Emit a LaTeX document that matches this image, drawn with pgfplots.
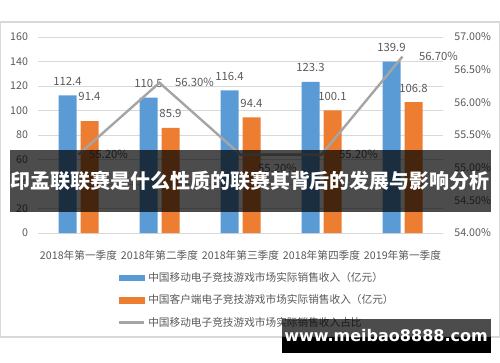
\documentclass[border=0pt]{standalone}
\usepackage{pgfplots}
\pgfplotsset{compat=1.18}
\usepackage{fontspec}
\setmainfont{Noto Sans CJK SC}
\newfontfamily\wmfont{DejaVu Sans}
\definecolor{cblue}{HTML}{5B9BD5}
\definecolor{corange}{HTML}{ED7D31}
\definecolor{cgray}{HTML}{A5A5A5}
\definecolor{cgrid}{HTML}{D9D9D9}
\definecolor{ctxt}{HTML}{595959}
\begin{document}
\begin{tikzpicture}
\useasboundingbox (0,0) rectangle (375pt,271.5pt);
\draw[cgrid, line width=0.8pt] (0.4pt,18.75pt) rectangle (374.6pt,255pt);
\pgfkeys{/pgf/number format/assume math mode=true}
\begin{axis}[
  at={(28.5pt,96.75pt)}, anchor=south west,
  width=303.75pt, height=147pt, scale only axis,
  xmin=-0.5, xmax=4.5, ymin=0, ymax=160,
  ytick={0,20,...,160},
  xtick={0,1,2,3,4},
  xticklabels={2018年第一季度,2018年第二季度,2018年第三季度,2018年第四季度,2019年第一季度},
  ymajorgrids, grid style={cgrid, line width=0.7pt},
  axis line style={draw=none}, tick style={draw=none},
  ticklabel style={font=\fontsize{8}{9.6}\selectfont, text=ctxt},
  yticklabel style={xshift=-4pt},
  xticklabel style={yshift=-5.5pt},
  /pgf/number format/assume math mode=true,
  ybar, bar width=13.5pt,
  nodes near coords={\pgfmathprintnumber[fixed,fixed zerofill,precision=1]{\pgfplotspointmeta}},
  point meta=y,
  every node near coord/.append style={font=\fontsize{8.5}{10}\selectfont, text=ctxt, anchor=center, yshift=\off pt},
  visualization depends on={value \thisrow{off} \as \off},
]
\addplot[fill=cblue, draw=none, bar shift=-8.25pt] table[x=x,y=y] {
x y off
0 112.4 10.5
1 110.5 10.5
2 116.4 10.5
3 123.3 10.5
4 139.9 10.5
};
\addplot[fill=corange, draw=none, bar shift=8.25pt] table[x=x,y=y] {
x y off
0 91.4 18.75
1 85.9 10.5
2 94.4 10.5
3 100.1 10.5
4 106.8 10.5
};
\end{axis}
\begin{axis}[
  at={(28.5pt,96.75pt)}, anchor=south west,
  width=303.75pt, height=147pt, scale only axis,
  xmin=-0.5, xmax=4.5, ymin=54, ymax=57,
  ytick={54,54.5,...,57},
  axis y line*=right, axis x line=none,
  axis line style={draw=none}, tick style={draw=none},
  yticklabel={\pgfmathprintnumber[fixed,fixed zerofill,precision=2]{\tick}\%},
  ticklabel style={font=\fontsize{8}{9.6}\selectfont, text=ctxt},
  yticklabel style={xshift=5pt},
  /pgf/number format/assume math mode=true,
  legend style={at={(0.1975,-0.185)}, anchor=north west, draw=none, fill=none,
    inner sep=0pt, row sep=4.5pt, font=\fontsize{8}{9.6}\selectfont, text=ctxt},
  legend cell align=left,
]
\addlegendimage{legend image code/.code={\fill[cblue] (0pt,-2.2pt) rectangle (18.75pt,2.2pt);}}
\addlegendentry{中国移动电子竞技游戏市场实际销售收入（亿元）}
\addlegendimage{legend image code/.code={\fill[corange] (0pt,-2.2pt) rectangle (18.75pt,2.2pt);}}
\addlegendentry{中国客户端电子竞技游戏市场实际销售收入（亿元）}
\addplot[cgray, line width=1.8pt, mark=none,
  legend image code/.code={\draw[cgray, line width=1.8pt] (0pt,0pt) -- (18.75pt,0pt);},
  nodes near coords={\pgfmathprintnumber[fixed,fixed zerofill,precision=2]{\pgfplotspointmeta}\%},
  point meta=y,
  every node near coord/.append style={font=\fontsize{8.5}{10}\selectfont, text=ctxt, anchor=west, xshift=\dx pt, yshift=\dy pt},
  visualization depends on={value \thisrow{dx} \as \dx},
  visualization depends on={value \thisrow{dy} \as \dy},
] table[x=x,y=y] {
x y dx dy
0 55.2 3.75 0
1 56.3 7.5 0
2 55.2 9 -10.5
3 55.2 9 0
4 56.7 8.25 0
};
\addlegendentry{中国移动电子竞技游戏市场实际销售收入占比}
\end{axis}
\fill[black, opacity=0.7] (7.5pt,112.5pt) rectangle (368.25pt,159pt);
\node[text=white, font=\fontsize{15}{18}\selectfont\bfseries] at (187.5pt,135.75pt) {印孟联联赛是什么性质的联赛其背后的发展与影响分析};
\fill[black, opacity=0.7] (211.5pt,18.75pt) rectangle (368.25pt,32.25pt);
\fill[black] (211.5pt,6.75pt) rectangle (368.25pt,18.75pt);
\node[text=white, font=\wmfont\bfseries\fontsize{12}{14}\selectfont] at (289.5pt,19.5pt) {www.meibao8888.com};
\end{tikzpicture}
\end{document}
